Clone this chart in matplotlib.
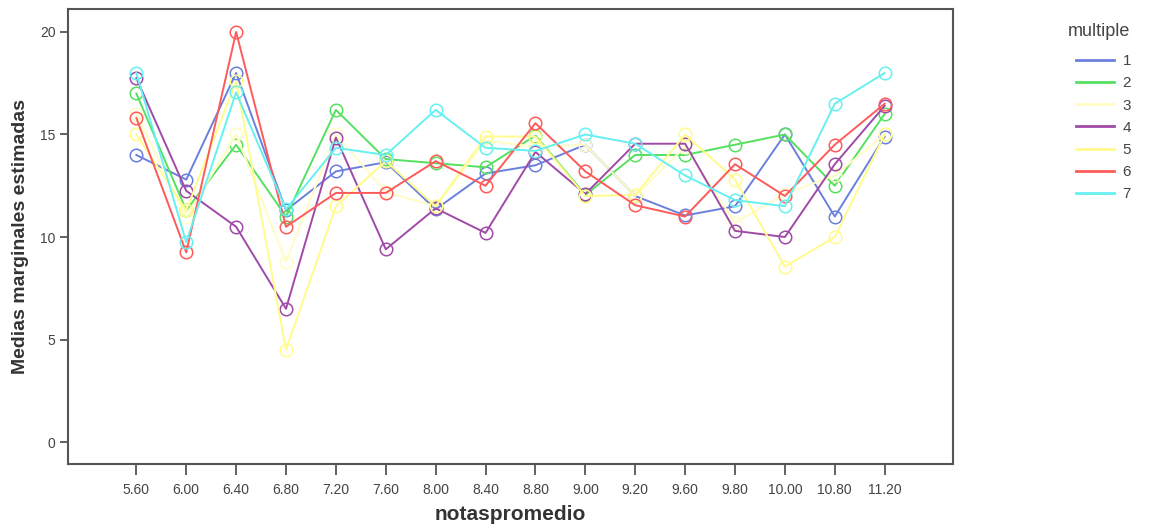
import numpy as np
import matplotlib
matplotlib.use('Agg')
import matplotlib.pyplot as plt
from matplotlib.lines import Line2D

plt.rcParams['font.family'] = ['Liberation Sans', 'DejaVu Sans']

categories = ["5.60", "6.00", "6.40", "6.80", "7.20", "7.60", "8.00", "8.40",
              "8.80", "9.00", "9.20", "9.60", "9.80", "10.00", "10.80", "11.20"]

s1 = [14.0, 12.8, 18.0, 11.3, 13.2, 13.65, 11.35, 13.1, 13.5, 14.5, 12.0, 11.05, 11.5, 15.0, 11.0, 14.9]
s2 = [17.0, 11.3, 14.5, 11.0, 16.2, 13.8, 13.6, 13.4, 14.95, 12.05, 14.0, 14.0, 14.5, 15.0, 12.5, 16.0]
s3 = [16.0, 11.0, 15.0, 8.8, 15.0, 12.2, 11.5, 14.7, 14.4, 14.5, 12.0, 14.4, 10.7, 12.1, 13.0, 15.0]
s4 = [17.75, 12.25, 10.5, 6.5, 14.85, 9.4, 11.4, 10.2, 14.15, 12.1, 14.55, 14.55, 10.3, 10.0, 13.55, 16.4]
s5 = [15.0, 11.3, 17.6, 4.5, 11.5, 13.7, 11.5, 14.9, 14.9, 12.0, 12.05, 15.0, 12.8, 8.55, 10.0, 15.0]
s6 = [15.8, 9.25, 20.0, 10.5, 12.15, 12.15, 13.7, 12.5, 15.55, 13.2, 11.55, 11.0, 13.55, 12.0, 14.5, 16.5]
s7 = [18.0, 9.75, 17.05, 11.35, 14.35, 14.0, 16.2, 14.35, 14.2, 15.0, 14.55, 13.0, 11.8, 11.5, 16.5, 18.0]

series = [s1, s2, s3, s4, s5, s6, s7]
names = ["1", "2", "3", "4", "5", "6", "7"]
colors = ["#6a80dc", "#55e060", "#fffcc4", "#a04aa8", "#fffc8c", "#ff5a5a", "#66f0f0"]

fig = plt.figure(figsize=(11.5, 5.28), dpi=100)
ax = fig.add_axes([68/1150, 1 - 464/528, (953-68)/1150, (464-9)/528])

x = np.arange(len(categories))
for vals, c in zip(series, colors):
    ax.plot(x, vals, color=c, linewidth=1.4, marker='o', markersize=9,
            markerfacecolor='none', markeredgecolor=c, markeredgewidth=1.1)

ax.set_xlim(-1.37, len(categories) - 1 + 1.37)
ax.set_ylim(-1.07, 21.12)
ax.set_xticks(x)
ax.set_xticklabels(categories)
ax.set_yticks([0, 5, 10, 15, 20])

for sp in ax.spines.values():
    sp.set_color('#555555')
    sp.set_linewidth(1.5)
ax.tick_params(axis='both', colors='#555555', labelcolor='#444444', labelsize=10,
               width=1.3, direction='out')
ax.tick_params(axis='x', length=8, pad=6)
ax.tick_params(axis='y', length=6, pad=3)

fig.text(510/1150, 1 - 515/528, "notaspromedio", ha='center', va='center',
         fontsize=15, fontweight='bold', color='#333333')
fig.text(21/1150, 1 - 237/528, "Medias marginales estimadas", rotation=90,
         ha='center', va='center', fontsize=14, fontweight='bold', color='#333333')

handles = [Line2D([0], [0], color=c, linewidth=2) for c in colors]
fig.text(1068/1150, 1 - 31/528, "multiple", fontsize=13, color='#444444',
         ha='left', va='center')
leg = fig.legend(handles, names, loc='upper left', bbox_to_anchor=(1076/1150, 1 - 54/528),
                 frameon=False, fontsize=11, handlelength=2.5, handletextpad=0.55,
                 labelspacing=0.54, borderpad=0, borderaxespad=0)
for t in leg.get_texts():
    t.set_color('#444444')

fig.savefig('out.png', dpi=100)
plt.close(fig)
